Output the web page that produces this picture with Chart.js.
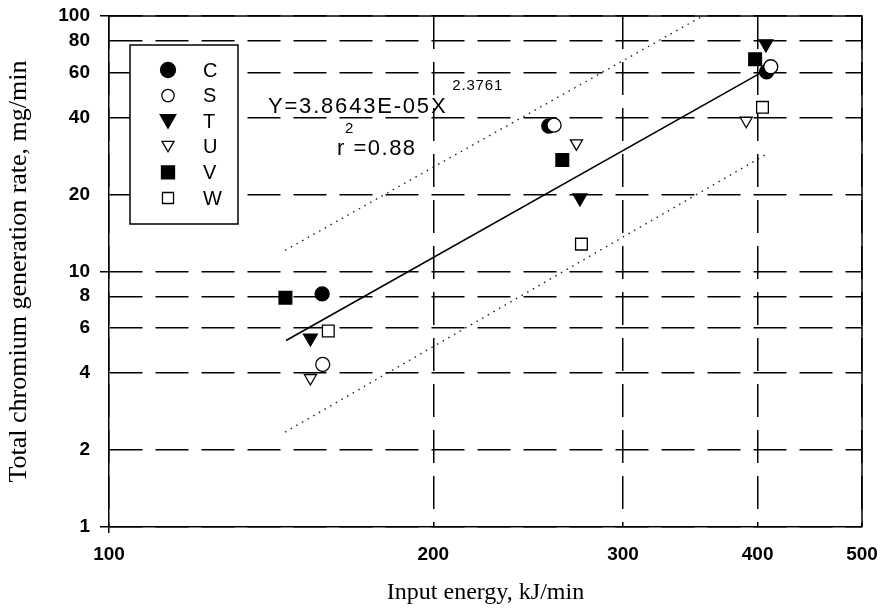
<!DOCTYPE html>
<html><head><meta charset="utf-8">
<script src="https://cdn.jsdelivr.net/npm/chart.js@4.4.0/dist/chart.umd.min.js"></script>
<style>html,body{margin:0;padding:0;background:#fff;}#wrap{width:881px;height:611px;}</style>
</head><body><div id="wrap"><canvas id="c" width="881" height="611"></canvas></div>
<script>
// ---- data ----
const seriesNames = ['C', 'S', 'T', 'U', 'V', 'W'];
const energyC = [157.7, 256.0, 407.8];
const rateC   = [8.17, 37.1, 60.5];
const energyS = [157.9, 258.9, 411.4];
const rateS   = [4.33, 37.4, 63.3];
const energyT = [153.8, 273.6, 407.2];
const rateT   = [5.49, 19.4, 77.8];
const energyU = [153.8, 271.6, 390.4];
const rateU   = [3.83, 31.75, 38.9];
const energyV = [145.8, 263.5, 397.9];
const rateV   = [7.90, 27.3, 67.7];
const energyW = [159.8, 274.5, 404.2];
const rateW   = [5.85, 12.8, 43.9];
// regression line and dotted band end points
const fitEnergy = [146, 405];
const fitRate = [5.37, 60.7];
const upperEnergy = [145.7, 355.7];
const upperRate = [12.1, 100];
const lowerEnergy = [145.7, 406.6];
const lowerRate = [2.35, 28.6];
const xTicks = [100, 200, 300, 400, 500];
const yTicks = [1, 2, 4, 6, 8, 10, 20, 40, 60, 80, 100];
const eqText = 'Y=3.8643E-05X';
const eqExp = '2.3761';
const r2Sup = '2';
const r2Text = 'r =0.88';
const xTitle = 'Input energy, kJ/min';
const yTitle = 'Total chromium generation rate, mg/min';

const pts = (xs, ys) => xs.map((x, i) => ({x: x, y: ys[i]}));

const markerStyles = {
  C: {pointStyle: 'circle', rotation: 0, pointRadius: 7, fill: '#000'},
  S: {pointStyle: 'circle', rotation: 0, pointRadius: 7, fill: '#fff'},
  T: {pointStyle: 'triangle', rotation: 180, pointRadius: 8, fill: '#000'},
  U: {pointStyle: 'triangle', rotation: 180, pointRadius: 7, fill: '#fff'},
  V: {pointStyle: 'rect', rotation: 0, pointRadius: 9, fill: '#000'},
  W: {pointStyle: 'rect', rotation: 0, pointRadius: 8.3, fill: '#fff'}
};
const seriesData = {
  C: pts(energyC, rateC), S: pts(energyS, rateS), T: pts(energyT, rateT),
  U: pts(energyU, rateU), V: pts(energyV, rateV), W: pts(energyW, rateW)
};

const markerDatasets = seriesNames.map(n => {
  const m = markerStyles[n];
  return {
    label: n, data: seriesData[n], showLine: false,
    pointStyle: m.pointStyle, rotation: m.rotation, pointRadius: m.pointRadius,
    pointHoverRadius: m.pointRadius,
    pointBackgroundColor: m.fill, pointBorderColor: '#000', pointBorderWidth: 1.3,
    order: n === 'C' ? 1 : 0
  };
});
const lineDatasets = [
  {label: 'fit', data: pts(fitEnergy, fitRate), showLine: true, pointRadius: 0,
   borderColor: '#000', borderWidth: 1.6, fill: false, order: 2},
  {label: 'upper', data: pts(upperEnergy, upperRate), showLine: true, pointRadius: 0,
   borderColor: '#222', borderWidth: 1.4, borderDash: [1.5, 5], fill: false, order: 2},
  {label: 'lower', data: pts(lowerEnergy, lowerRate), showLine: true, pointRadius: 0,
   borderColor: '#222', borderWidth: 1.4, borderDash: [1.5, 5], fill: false, order: 2}
];

const SANS = '"Liberation Sans", Arial, sans-serif';
const SERIF = '"Liberation Serif", "Times New Roman", serif';

const framePlugin = {
  id: 'frame',
  afterDraw(chart) {
    const {ctx, chartArea: a} = chart;
    ctx.save();
    ctx.strokeStyle = '#000'; ctx.lineWidth = 1.5; ctx.setLineDash([]);
    ctx.beginPath();
    ctx.moveTo(a.left, a.top); ctx.lineTo(a.right, a.top); ctx.lineTo(a.right, a.bottom);
    ctx.stroke();
    ctx.restore();
  }
};

function drawMarker(ctx, style, x, y, r, fill) {
  ctx.beginPath();
  if (style === 'circle') {
    ctx.arc(x, y, r, 0, Math.PI * 2);
  } else if (style === 'triangle') {
    const w = r * Math.sqrt(3) / 2;
    ctx.moveTo(x - w, y - r / 2); ctx.lineTo(x + w, y - r / 2); ctx.lineTo(x, y + r);
    ctx.closePath();
  } else {
    const s = r * Math.SQRT1_2;
    ctx.rect(x - s, y - s, 2 * s, 2 * s);
  }
  ctx.fillStyle = fill; ctx.fill();
  ctx.lineWidth = 1.3; ctx.strokeStyle = '#000'; ctx.stroke();
}

const legendPlugin = {
  id: 'boxLegend',
  afterDatasetsDraw(chart) {
    const {ctx, chartArea: a} = chart;
    const bx = a.left + 21, by = a.top + 29, bw = 108, bh = 179;
    ctx.save();
    ctx.fillStyle = '#fff'; ctx.fillRect(bx, by, bw, bh);
    ctx.strokeStyle = '#000'; ctx.lineWidth = 1.5; ctx.setLineDash([]);
    ctx.strokeRect(bx, by, bw, bh);
    const legendR = {C: 7.5, S: 6.2, T: 9, U: 7, V: 9.2, W: 7.8};
    chart.data.datasets.filter(d => seriesNames.includes(d.label)).forEach((d, i) => {
      const cy = by + 25 + i * 25.6;
      const cx = bx + 38;
      const m = markerStyles[d.label];
      let yy = cy;
      if (m.pointStyle === 'triangle') yy = cy - 2;
      drawMarker(ctx, m.pointStyle, cx, yy, legendR[d.label], m.fill);
      ctx.fillStyle = '#000';
      ctx.font = '20px ' + SANS;
      ctx.textAlign = 'left'; ctx.textBaseline = 'middle';
      ctx.fillText(d.label, bx + 73, cy + 1);
    });
    // equation text
    ctx.fillStyle = '#000';
    ctx.textBaseline = 'alphabetic'; ctx.textAlign = 'left';
    ctx.font = '22px ' + SANS;
    ctx.letterSpacing = '1.8px';
    ctx.fillText(eqText, 268, 113);
    const w = ctx.measureText(eqText).width;
    ctx.font = '15px ' + SANS;
    ctx.letterSpacing = '0.8px';
    ctx.fillText(eqExp, 268 + w + 5, 90);
    ctx.fillText(r2Sup, 345, 133);
    ctx.font = '22px ' + SANS;
    ctx.letterSpacing = '1.5px';
    ctx.fillText(r2Text, 337, 155);
    ctx.restore();
  }
};

const tickFont = {family: SANS, size: 19, weight: 'bold'};

new Chart(document.getElementById('c'), {
  type: 'scatter',
  data: {datasets: [...markerDatasets, ...lineDatasets]},
  options: {
    responsive: false, animation: false, devicePixelRatio: 1,
    layout: {padding: {top: 16, right: 19, left: 0, bottom: 0}},
    plugins: {legend: {display: false}, tooltip: {enabled: false}},
    scales: {
      x: {
        type: 'logarithmic', min: 100, max: 500, position: 'bottom',
        afterBuildTicks: s => { s.ticks = xTicks.map(v => ({value: v})); },
        afterFit: s => { s.height = 84; s.paddingLeft = 0; s.paddingRight = 0; },
        ticks: {callback: v => String(v), font: tickFont, color: '#000', padding: 10,
                autoSkip: false, maxRotation: 0},
        grid: {color: '#000', lineWidth: 1.5, tickLength: 6, tickWidth: 1.5,
               tickColor: c => (c.tick && c.tick.value === 100) ? '#000' : 'rgba(0,0,0,0)'},
        border: {display: true, color: '#000', width: 1.5, dash: [33, 13]},
        title: {display: true, text: xTitle, color: '#000',
                font: {family: SERIF, size: 24}, padding: {top: 0, bottom: 4}}
      },
      y: {
        type: 'logarithmic', min: 1, max: 100, position: 'left',
        afterBuildTicks: s => { s.ticks = yTicks.map(v => ({value: v})); },
        afterFit: s => { s.width = 109; s.paddingTop = 0; s.paddingBottom = 0; },
        ticks: {callback: v => String(v), font: tickFont, color: '#000', padding: 10,
                autoSkip: false},
        grid: {color: '#000', lineWidth: 1.5, tickLength: 9, tickWidth: 1.5,
               tickColor: c => (c.tick && [1, 10, 100].includes(c.tick.value)) ? '#000' : 'rgba(0,0,0,0)'},
        border: {display: true, color: '#000', width: 1.5, dash: [33, 13]},
        title: {display: true, text: yTitle, color: '#000',
                font: {family: SERIF, size: 26}, padding: {top: 4, bottom: 0}}
      }
    }
  },
  plugins: [framePlugin, legendPlugin]
});
</script></body></html>
